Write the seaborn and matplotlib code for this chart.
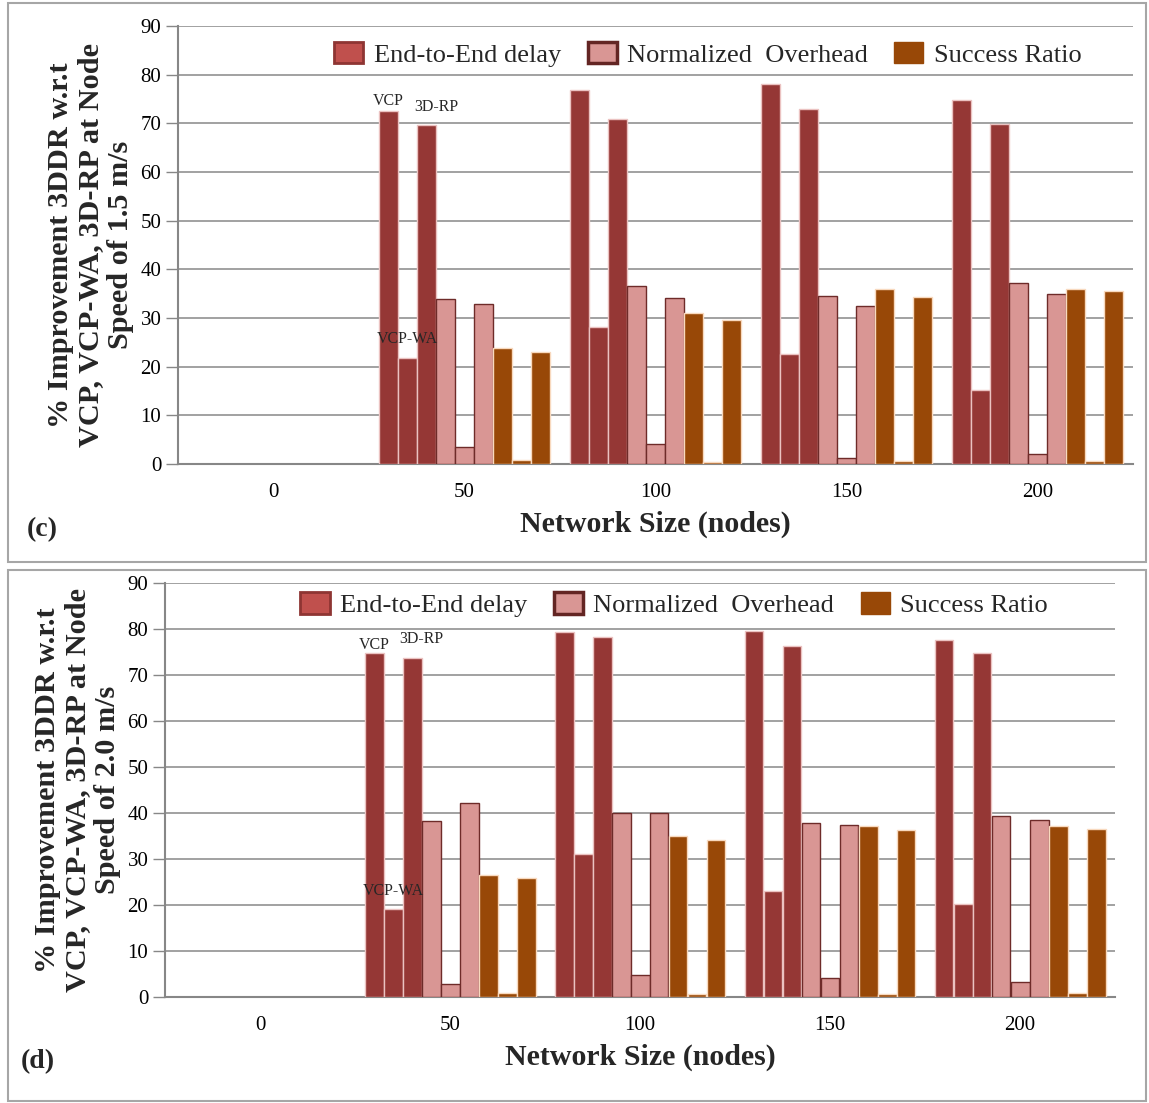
import matplotlib
matplotlib.use("Agg")
import matplotlib.pyplot as plt
from matplotlib.patches import Rectangle, Patch
import seaborn as sns
import pandas as pd

# ---------------- data ----------------
categories = ["0", "50", "100", "150", "200"]
series = ["E2E-VCP", "E2E-VCP-WA", "E2E-3D-RP",
          "NO-VCP", "NO-VCP-WA", "NO-3D-RP",
          "SR-VCP", "SR-VCP-WA", "SR-3D-RP"]

# Panel (c): node speed 1.5 m/s
c_e2e_vcp = [0, 72.5, 76.9, 78.0, 74.8]
c_e2e_vcpwa = [0, 21.8, 28.1, 22.6, 15.3]
c_e2e_3drp = [0, 69.6, 70.9, 73.0, 69.9]
c_no_vcp = [0, 33.9, 36.5, 34.6, 37.1]
c_no_vcpwa = [0, 3.5, 4.2, 1.3, 2.0]
c_no_3drp = [0, 32.9, 34.2, 32.4, 34.9]
c_sr_vcp = [0, 23.8, 31.1, 36.0, 36.0]
c_sr_vcpwa = [0, 0.8, 0.5, 0.55, 0.6]
c_sr_3drp = [0, 23.0, 29.6, 34.4, 35.6]

# Panel (d): node speed 2.0 m/s
d_e2e_vcp = [0, 74.7, 79.3, 79.6, 77.7]
d_e2e_vcpwa = [0, 19.2, 31.0, 23.1, 20.3]
d_e2e_3drp = [0, 73.8, 78.3, 76.4, 74.7]
d_no_vcp = [0, 38.2, 40.0, 37.9, 39.4]
d_no_vcpwa = [0, 2.8, 4.8, 4.1, 3.3]
d_no_3drp = [0, 42.1, 40.0, 37.5, 38.4]
d_sr_vcp = [0, 26.6, 35.1, 37.1, 37.1]
d_sr_vcpwa = [0, 0.9, 0.7, 0.65, 0.95]
d_sr_3drp = [0, 25.8, 34.2, 36.2, 36.5]

legend_labels = ["End-to-End delay", "Normalized  Overhead", "Success Ratio"]
panel_tags = ["(c)", "(d)"]
ylabels = ["% Improvement 3DDR w.r.t\nVCP, VCP-WA, 3D-RP at Node\nSpeed of 1.5 m/s",
           "% Improvement 3DDR w.r.t\nVCP, VCP-WA, 3D-RP at Node\nSpeed of 2.0 m/s"]
xlabel = "Network Size (nodes)"
yticks = [0, 10, 20, 30, 40, 50, 60, 70, 80, 90]

# ---------------- style ----------------
E2E_FILL, E2E_EDGE = "#953735", "#EBC2C1"
NO_FILL, NO_EDGE = "#D99694", "#6E2B29"
SR_FILL, SR_EDGE = "#984807", "#F8D9BE"
fills = [E2E_FILL] * 3 + [NO_FILL] * 3 + [SR_FILL] * 3
edges = [E2E_EDGE] * 3 + [NO_EDGE] * 3 + [SR_EDGE] * 3
palette = dict(zip(series, fills))

sns.set_theme(style="white")
plt.rcParams["font.family"] = ["Liberation Serif", "DejaVu Serif"]

def make_df(cols):
    rows = []
    for s, vals in zip(series, cols):
        for cat, v in zip(categories, vals):
            rows.append({"size": cat, "series": s, "value": v})
    return pd.DataFrame(rows)

df_c = make_df([c_e2e_vcp, c_e2e_vcpwa, c_e2e_3drp, c_no_vcp, c_no_vcpwa,
                c_no_3drp, c_sr_vcp, c_sr_vcpwa, c_sr_3drp])
df_d = make_df([d_e2e_vcp, d_e2e_vcpwa, d_e2e_3drp, d_no_vcp, d_no_vcpwa,
                d_no_3drp, d_sr_vcp, d_sr_vcpwa, d_sr_3drp])

W, H = 1149, 1103
fig = plt.figure(figsize=(W / 100, H / 100), dpi=100)

def px_axes(left, top, right, bottom):
    return fig.add_axes([left / W, 1 - bottom / H, (right - left) / W, (bottom - top) / H])

# panel borders
for (x0, y0, x1, y1) in [(8, 3, 1146, 562), (8, 570, 1146, 1101)]:
    fig.patches.append(Rectangle((x0 / W, 1 - y1 / H), (x1 - x0) / W, (y1 - y0) / H,
                                 transform=fig.transFigure, fill=False,
                                 edgecolor="#A6A6A6", linewidth=1.5))

axes_px = [(178, 26, 1133, 464), (165, 583, 1115, 997)]
dfs = [df_c, df_d]
legend_anchor = [(0.555, 0.936), (0.536, 0.947)]
annots = [
    [("VCP", 0.6, 74.5), ("3D-RP", 0.85, 73.3), ("VCP-WA", 0.7, 25.7)],
    [("VCP", 0.6, 76.5), ("3D-RP", 0.85, 77.8), ("VCP-WA", 0.7, 23.0)],
]
tag_pos = [(42, 530), (38, 1062)]

for i in range(2):
    ax = px_axes(*axes_px[i])
    sns.barplot(data=dfs[i], x="size", y="value", hue="series", order=categories,
                hue_order=series, palette=palette, width=0.9, saturation=1,
                errorbar=None, legend=False, ax=ax, zorder=3)
    for cont, ec in zip(ax.containers, edges):
        for p in cont:
            p.set_edgecolor(ec)
            p.set_linewidth(1.0)
            if p.get_height() == 0:
                p.set_linewidth(0)
    ax.set_xlim(-0.5, 4.5)
    ax.set_ylim(0, 90)
    ax.set_yticks(yticks)
    ax.yaxis.grid(True, color="#9A9A9A", linewidth=1.3)
    ax.set_axisbelow(True)
    for s in ["top", "right"]:
        ax.spines[s].set_visible(False)
    for s in ["left", "bottom"]:
        ax.spines[s].set_color("#878787")
        ax.spines[s].set_linewidth(1.5)
    ax.tick_params(axis="y", which="both", left=True, length=9, width=1,
                   color="#878787", direction="out", labelsize=15, pad=3)
    ax.tick_params(axis="x", bottom=False, labelsize=15, pad=8)
    ax.set_xlabel(xlabel, fontsize=21.5, fontweight="bold", labelpad=6)
    ax.set_ylabel(ylabels[i], fontsize=21.8, fontweight="bold", linespacing=1.12,
                  labelpad=5)
    for t in ax.get_xticklabels() + ax.get_yticklabels():
        t.set_color("black")

    handles = [
        Patch(facecolor="#C0504D", edgecolor="#8E3533", linewidth=2),
        Patch(facecolor=NO_FILL, edgecolor="#632523", linewidth=2.5),
        Patch(facecolor=SR_FILL, edgecolor=SR_FILL, linewidth=1),
    ]
    ax.legend(handles, legend_labels, loc="center", bbox_to_anchor=legend_anchor[i],
              ncol=3, frameon=False, fontsize=19, handlelength=1.1, handleheight=0.9,
              handletextpad=0.4, columnspacing=1.0, borderaxespad=0)

    for txt, xx, yy in annots[i]:
        ax.text(xx, yy, txt, ha="center", va="center", fontsize=11.5, zorder=5)

    fig.text(tag_pos[i][0] / W, 1 - tag_pos[i][1] / H, panel_tags[i],
             fontsize=20, fontweight="bold", ha="center", va="center")

fig.savefig("out.png", dpi=100)
